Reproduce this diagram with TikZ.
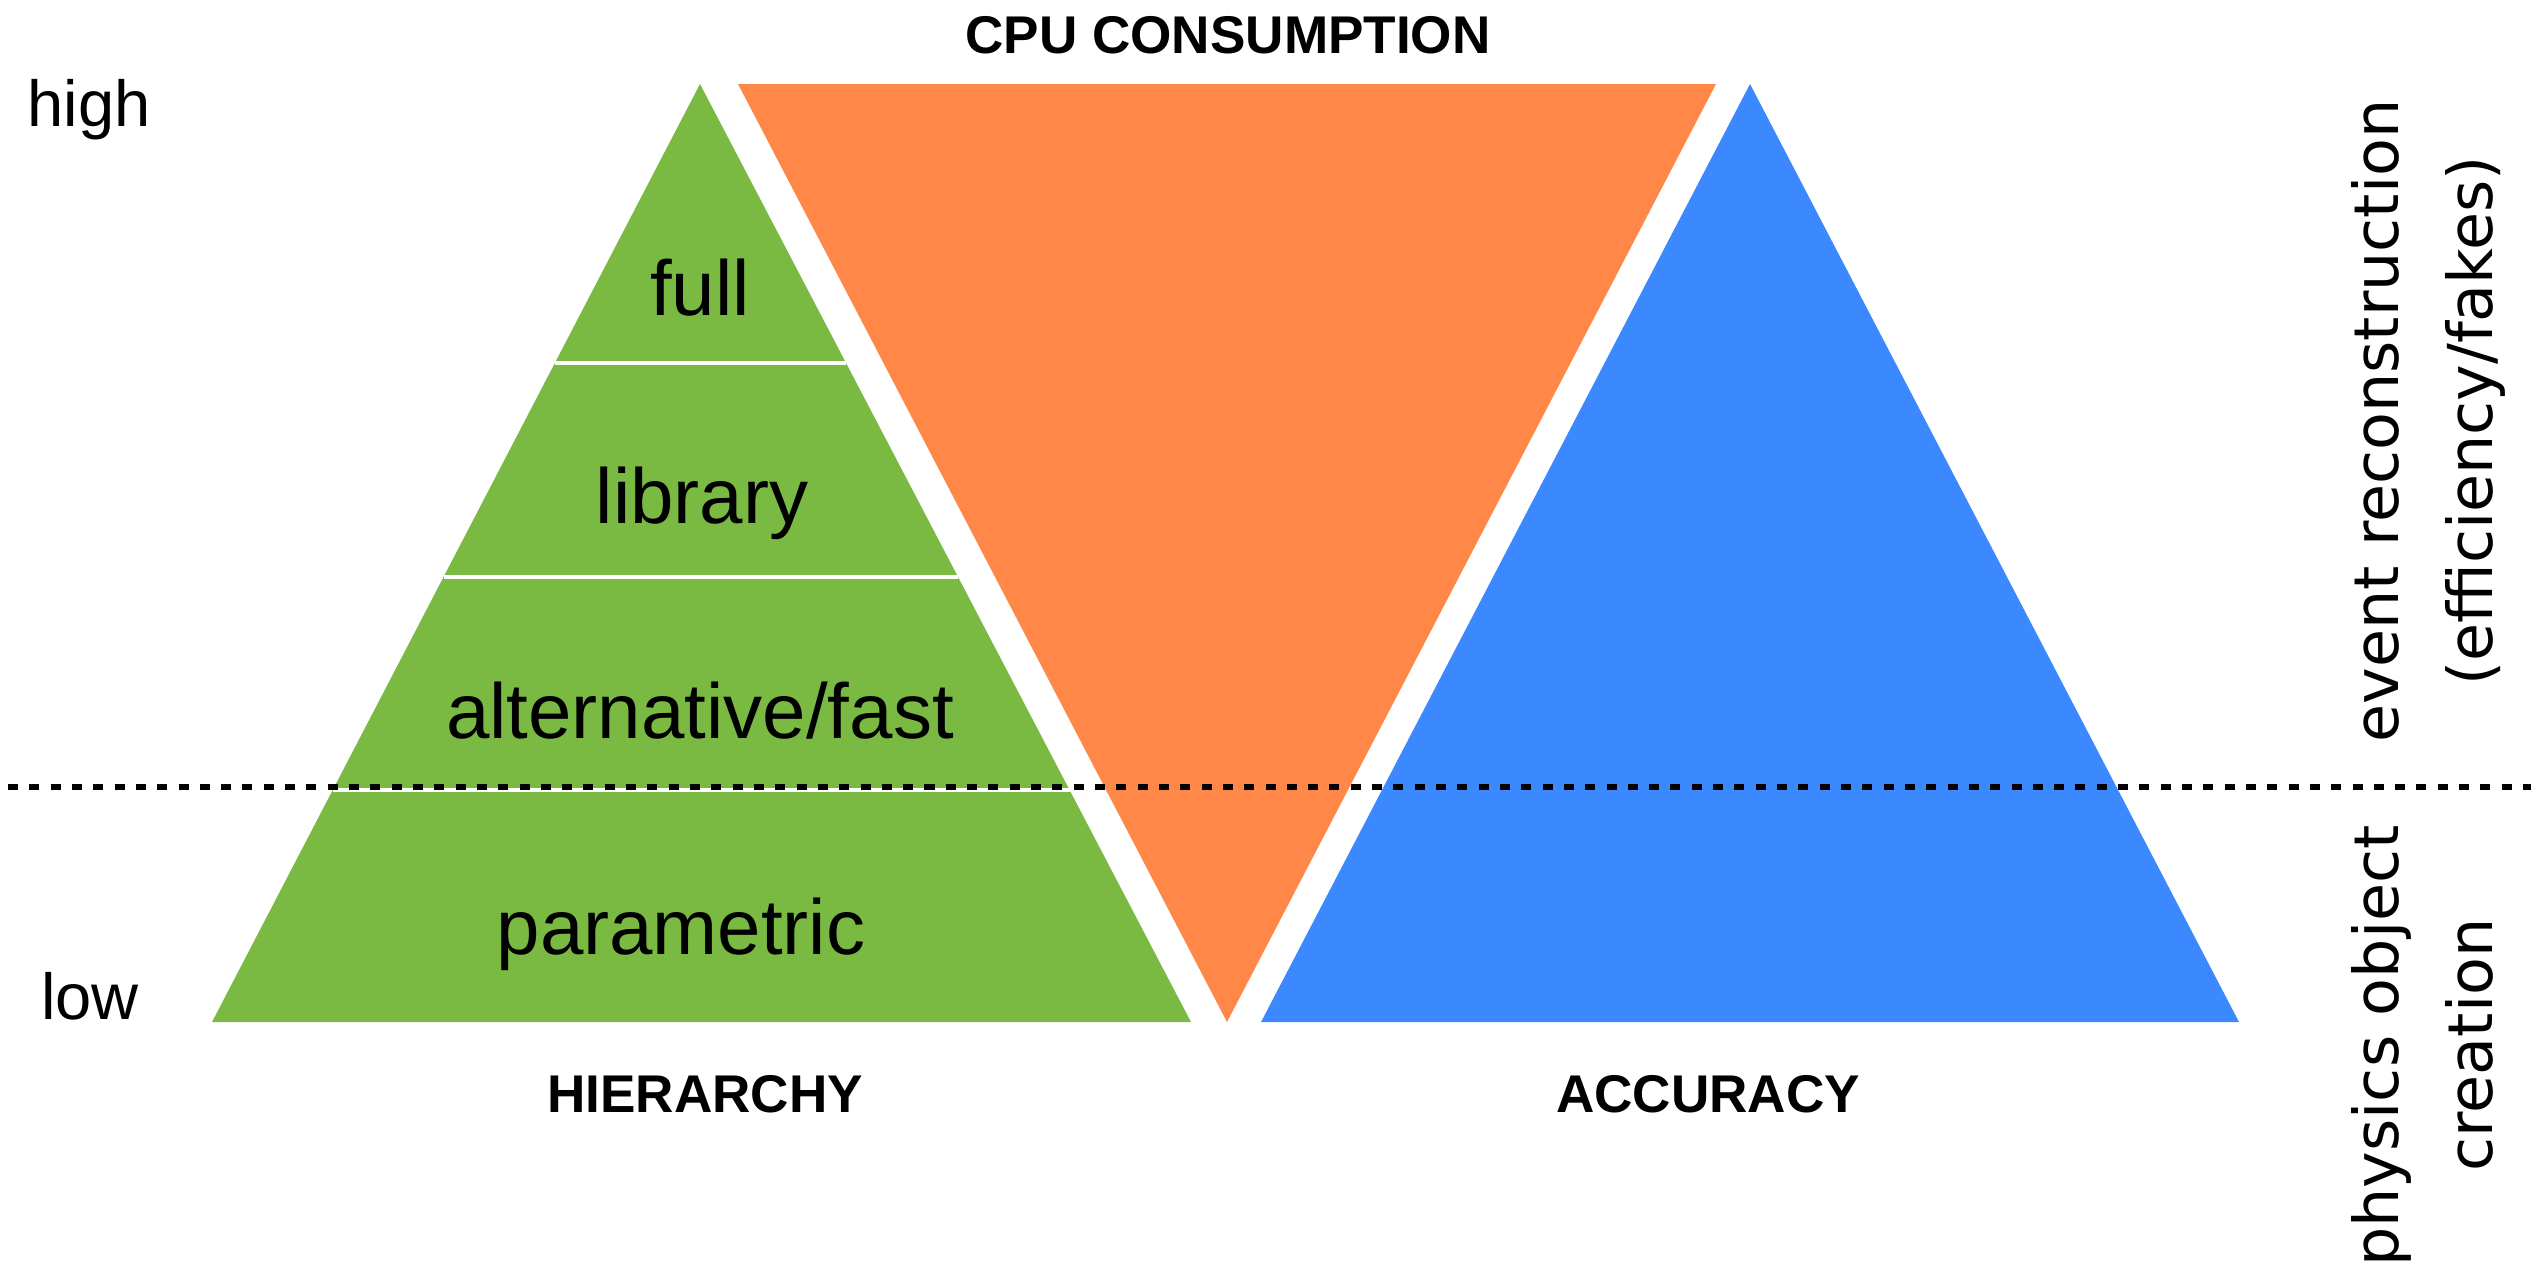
\documentclass[tikz,border=0pt]{standalone}
\usepackage{fontspec}
\setmainfont{Liberation Sans}
\newfontfamily\sidefont{DejaVu Sans}
\usetikzlibrary{calc}

\definecolor{hierGreen}{RGB}{122,186,67}
\definecolor{cpuOrange}{RGB}{255,135,72}
\definecolor{accBlue}{RGB}{60,137,255}

\tikzset{
  layerlbl/.style={anchor=base,font=\fontsize{22.2}{26}\selectfont},
  bigtitle/.style={anchor=base,font=\bfseries\fontsize{15.1}{18}\selectfont},
  scalelbl/.style={anchor=base,font=\fontsize{18.5}{22}\selectfont},
  sidelbl/.style={anchor=base,rotate=90,font=\sidefont\fontsize{17.6}{21}\selectfont},
  layersep/.style={white,line width=0.045cm},
  dotline/.style={line width=0.06cm,dash pattern=on 0.1cm off 0.113cm},
}

\begin{document}
\begin{tikzpicture}[x=0.01cm,y=-0.01cm]
    \useasboundingbox (0,0) rectangle (2531,1278);
    % corners
    \coordinate (gtop) at (700,84);
    \coordinate (gl) at (212,1022);
    \coordinate (gr) at (1191,1022);
    \coordinate (ol) at (738,84);
    \coordinate (or) at (1716,84);
    \coordinate (obot) at (1227,1022);
    \coordinate (btop) at (1750,84);
    \coordinate (bl) at (1261,1022);
    \coordinate (br) at (2239,1022);
    \coordinate (dl) at (8,787);
    \coordinate (dr) at (2531,787);

    \fill[hierGreen] (gtop) -- (gr) -- (gl) -- cycle;
    \fill[cpuOrange] (ol) -- (or) -- (obot) -- cycle;
    \fill[accBlue] (btop) -- (br) -- (bl) -- cycle;

    \foreach \f in {0.2974,0.5256,0.7527}
        \draw[layersep] ($(gtop)!\f!(gl)$) -- ($(gtop)!\f!(gr)$);

    \draw[dotline] (dl) -- (dr);

    \node[layerlbl] (full) at (700,315) {full};
    \node[layerlbl] (lib) at (702,523) {library};
    \node[layerlbl] (alt) at (700,738) {alternative/fast};
    \node[layerlbl] (param) at (681,954) {parametric};

    \node[bigtitle] (cpu) at (1228,53) {CPU CONSUMPTION};
    \node[bigtitle] (hier) at (705,1112) {HIERARCHY};
    \node[bigtitle] (acc) at (1708,1112) {ACCURACY};

    \node[scalelbl] (high) at (89,126) {high};
    \node[scalelbl] (low) at (90,1019) {low};

    \node[sidelbl] (evt) at (2398,421) {event reconstruction};
    \node[sidelbl] (eff) at (2492,421) {(efficiency/fakes)};
    \node[sidelbl] (phys) at (2398,1046) {physics object};
    \node[sidelbl] (creat) at (2492,1045) {creation};
\end{tikzpicture}
\end{document}
